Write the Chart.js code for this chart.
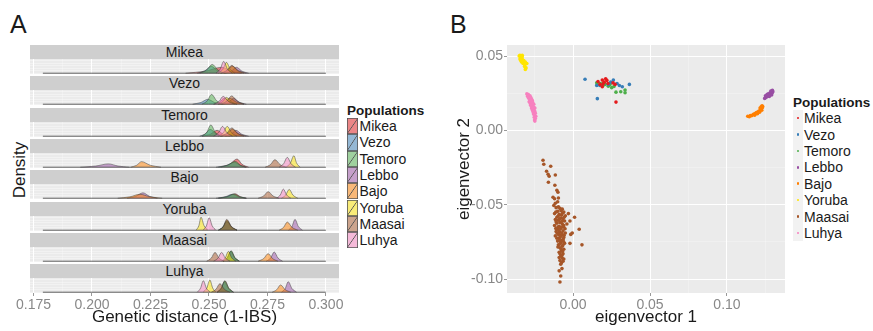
<!DOCTYPE html>
<html>
<head>
<meta charset="utf-8">
<script src="https://cdn.jsdelivr.net/npm/chart.js@4.4.1/dist/chart.umd.min.js"></script>
<style>
  body { margin: 0; width: 873px; height: 331px; overflow: hidden; position: relative; background: #fff;
         font-family: "Liberation Sans", Arial, sans-serif; color: #1a1a1a; }
  canvas { position: absolute; }
  .abs { position: absolute; }
  .tag { font-size: 25px; line-height: 25px; }
  .strip { position: absolute; left: 30px; width: 309px; height: 14px; background: #cfcfcf;
           font-size: 14px; line-height: 14px; text-align: center; }
  .legTitle { position: absolute; font-size: 13.5px; font-weight: bold; line-height: 15px; }
  .row { position: absolute; display: flex; align-items: center; font-size: 14px; }
</style>
</head>
<body>
<div class="abs tag" style="left:10px;top:12px">A</div>
<div class="abs tag" style="left:450px;top:12px">B</div>
<div class="abs" style="left:-20px;top:161px;width:80px;text-align:center;font-size:17px;line-height:18px;transform:rotate(-90deg)">Density</div>
<div class="legTitle" style="left:347px;top:103px">Populations</div>
<div class="legTitle" style="left:793px;top:95px">Populations</div>
<canvas id="pca" width="350" height="331" style="left:440px;top:0"></canvas>
<script>
// populations, in plotting order
const populations = ["Mikea", "Vezo", "Temoro", "Lebbo", "Bajo", "Yoruba", "Maasai", "Luhya"];
const popColors = ["#E41A1C", "#377EB8", "#4DAF4A", "#984EA3", "#FF7F00", "#FFE500", "#A65628", "#F781BF"];

// tick labels
const distanceTicks = ["0.175", "0.200", "0.225", "0.250", "0.275", "0.300"];
const eigenTicks = ["-0.10", "-0.05", "0.00", "0.05", "0.10"];

// panel A: density of genetic distance, one facet per reference population
// each curve: [x values, density values], curves in population order
const densityRange = [0.179, 0.300];

const densityMikea = [
  [[0.240, 0.2485, 0.2555, 0.2593, 0.264], [0, 2.1, 6, 2.1, 0]],
  [[0.245, 0.2483, 0.2510, 0.2537, 0.257], [0, 2.5, 7, 2.5, 0]],
  [[0.246, 0.2490, 0.2514, 0.2539, 0.257], [0, 3.2, 9, 3.2, 0]],
  [[0.257, 0.2596, 0.2618, 0.2641, 0.267], [0, 2.1, 6, 2.1, 0]],
  [[0.255, 0.2578, 0.2600, 0.2627, 0.266], [0, 2.5, 7, 2.5, 0]],
  [[0.254, 0.2559, 0.2575, 0.2591, 0.261], [0, 3.9, 11, 3.9, 0]],
  [[0.255, 0.2576, 0.2598, 0.2621, 0.265], [0, 2.8, 8, 2.8, 0]],
  [[0.253, 0.2548, 0.2563, 0.2579, 0.260], [0, 4.2, 12, 4.2, 0]]
];
const densityVezo = [
  [[0.252, 0.2545, 0.2565, 0.2590, 0.262], [0, 2.1, 6, 2.1, 0]],
  [[0.243, 0.2466, 0.2495, 0.2524, 0.256], [0, 1.8, 5, 1.8, 0]],
  [[0.247, 0.2493, 0.2511, 0.2533, 0.256], [0, 3.5, 10, 3.5, 0]],
  [[0.256, 0.2585, 0.2605, 0.2630, 0.266], [0, 2.1, 6, 2.1, 0]],
  [[0.254, 0.2568, 0.2590, 0.2617, 0.265], [0, 2.1, 6, 2.1, 0]],
  [[0.254, 0.2559, 0.2575, 0.2595, 0.262], [0, 2.5, 7, 2.5, 0]],
  [[0.255, 0.2576, 0.2597, 0.2621, 0.265], [0, 3.0, 8.5, 3.0, 0]],
  [[0.252, 0.2543, 0.2561, 0.2583, 0.261], [0, 2.8, 8, 2.8, 0]]
];
const densityTemoro = [
  [[0.247, 0.2506, 0.2535, 0.2560, 0.259], [0, 2.1, 6, 2.1, 0]],
  [[0.246, 0.2485, 0.2505, 0.2530, 0.256], [0, 2.5, 7, 2.5, 0]],
  [[0.247, 0.2491, 0.2508, 0.2527, 0.255], [0, 4.0, 11.5, 4.0, 0]],
  [[0.257, 0.2595, 0.2615, 0.2640, 0.267], [0, 2.1, 6, 2.1, 0]],
  [[0.255, 0.2578, 0.2600, 0.2627, 0.266], [0, 2.5, 7, 2.5, 0]],
  [[0.254, 0.2561, 0.2578, 0.2597, 0.262], [0, 3.5, 10, 3.5, 0]],
  [[0.255, 0.2576, 0.2598, 0.2621, 0.265], [0, 3.0, 8.5, 3.0, 0]],
  [[0.252, 0.2541, 0.2558, 0.2577, 0.260], [0, 3.5, 10, 3.5, 0]]
];
const densityLebbo = [
  [[0.255, 0.2589, 0.2620, 0.2642, 0.267], [0, 2.9, 8.4, 2.9, 0]],
  [[0.253, 0.2574, 0.2610, 0.2634, 0.266], [0, 1.8, 5, 1.8, 0]],
  [[0.254, 0.2580, 0.2612, 0.2634, 0.266], [0, 2.1, 6, 2.1, 0]],
  [[0.195, 0.2016, 0.2070, 0.2111, 0.216], [0, 1.2, 3.4, 1.2, 0]],
  [[0.2165, 0.2191, 0.2212, 0.2249, 0.2295], [0, 2.0, 5.7, 2.0, 0]],
  [[0.283, 0.2848, 0.2863, 0.2875, 0.289], [0, 4.1, 11.7, 4.1, 0]],
  [[0.274, 0.2763, 0.2782, 0.2804, 0.283], [0, 2.7, 7.7, 2.7, 0]],
  [[0.280, 0.2819, 0.2835, 0.2851, 0.287], [0, 3.5, 10, 3.5, 0]]
];
const densityBajo = [
  [[0.254, 0.2580, 0.2612, 0.2634, 0.266], [0, 1.6, 4.5, 1.6, 0]],
  [[0.253, 0.2569, 0.2600, 0.2627, 0.266], [0, 1.4, 4, 1.4, 0]],
  [[0.254, 0.2577, 0.2607, 0.2631, 0.266], [0, 1.5, 4.3, 1.5, 0]],
  [[0.215, 0.2187, 0.2218, 0.2246, 0.228], [0, 1.9, 5.5, 1.9, 0]],
  [[0.211, 0.2162, 0.2205, 0.2248, 0.230], [0, 1.4, 4, 1.4, 0]],
  [[0.281, 0.2828, 0.2843, 0.2859, 0.288], [0, 3.2, 9, 3.2, 0]],
  [[0.271, 0.2734, 0.2753, 0.2774, 0.280], [0, 2.3, 6.7, 2.3, 0]],
  [[0.279, 0.2805, 0.2818, 0.2832, 0.285], [0, 3.3, 9.3, 3.3, 0]]
];
const densityYoruba = [
  [[0.254, 0.2561, 0.2578, 0.2596, 0.262], [0, 3.2, 9, 3.2, 0]],
  [[0.254, 0.2560, 0.2576, 0.2595, 0.262], [0, 3.2, 9, 3.2, 0]],
  [[0.254, 0.2560, 0.2577, 0.2596, 0.262], [0, 3.5, 10, 3.5, 0]],
  [[0.284, 0.2855, 0.2868, 0.2882, 0.290], [0, 3.9, 11, 3.9, 0]],
  [[0.280, 0.2819, 0.2835, 0.2855, 0.288], [0, 2.9, 8.3, 2.9, 0]],
  [[0.2445, 0.2457, 0.2466, 0.2479, 0.2495], [0, 4.7, 13.3, 4.7, 0]],
  [[0.2545, 0.2562, 0.2576, 0.2596, 0.262], [0, 3.9, 11, 3.9, 0]],
  [[0.2475, 0.2489, 0.2501, 0.2514, 0.253], [0, 4.4, 12.7, 4.4, 0]]
];
const densityMaasai = [
  [[0.256, 0.2579, 0.2595, 0.2611, 0.263], [0, 3.5, 10, 3.5, 0]],
  [[0.256, 0.2578, 0.2593, 0.2610, 0.263], [0, 3.5, 10, 3.5, 0]],
  [[0.256, 0.2579, 0.2595, 0.2611, 0.263], [0, 3.7, 10.7, 3.7, 0]],
  [[0.2745, 0.2764, 0.2779, 0.2795, 0.2815], [0, 3.3, 9.4, 3.3, 0]],
  [[0.271, 0.2734, 0.2753, 0.2772, 0.2795], [0, 2.7, 7.7, 2.7, 0]],
  [[0.2555, 0.2570, 0.2583, 0.2597, 0.2615], [0, 3.5, 10, 3.5, 0]],
  [[0.249, 0.2510, 0.2526, 0.2543, 0.2565], [0, 3.2, 9, 3.2, 0]],
  [[0.252, 0.2539, 0.2554, 0.2570, 0.259], [0, 3.2, 9, 3.2, 0]]
];
const densityLuhya = [
  [[0.2535, 0.2553, 0.2568, 0.2585, 0.2605], [0, 4.0, 11.5, 4.0, 0]],
  [[0.2535, 0.2552, 0.2566, 0.2583, 0.2605], [0, 3.7, 10.5, 3.7, 0]],
  [[0.2535, 0.2553, 0.2568, 0.2585, 0.2605], [0, 4.1, 11.7, 4.1, 0]],
  [[0.281, 0.2826, 0.2839, 0.2855, 0.2875], [0, 3.7, 10.7, 3.7, 0]],
  [[0.277, 0.2790, 0.2806, 0.2826, 0.285], [0, 2.6, 7.4, 2.6, 0]],
  [[0.2475, 0.2491, 0.2504, 0.2516, 0.253], [0, 4.3, 12.4, 4.3, 0]],
  [[0.251, 0.2530, 0.2547, 0.2566, 0.259], [0, 3.0, 8.7, 3.0, 0]],
  [[0.245, 0.2464, 0.2476, 0.2489, 0.2505], [0, 4.1, 11.7, 4.1, 0]]
];

// panel B: PCA, [eigenvector 1, eigenvector 2] per individual
const pcaMikea = [[0.0190,0.0338],[0.0212,0.0347],[0.0203,0.0324],[0.0175,0.0309],[0.0190,0.0293],[0.0273,0.0309],
  [0.0279,0.0190],[0.0162,0.0329],[0.0227,0.0315],[0.0195,0.0312],[0.0260,0.0319],[0.0220,0.0336]];
const pcaVezo = [[0.0078,0.0344],[0.0158,0.0213],[0.0245,0.0324],[0.0262,0.0338],[0.0301,0.0302],[0.0320,0.0293],
  [0.0366,0.0309],[0.0229,0.0309],[0.0154,0.0302],[0.0286,0.0315],[0.0175,0.0302]];
const pcaTemoro = [[0.0154,0.0320],[0.0175,0.0315],[0.0208,0.0309],[0.0229,0.0297],[0.0251,0.0287],[0.0279,0.0257],
  [0.0310,0.0260],[0.0338,0.0253],[0.0338,0.0271],[0.0193,0.0315],[0.0156,0.0305],[0.0195,0.0302],[0.0240,0.0309],[0.0266,0.0295]];
const pcaLebbo = [[0.1245,0.0215],[0.1255,0.0222],[0.1262,0.0228],[0.1270,0.0235],[0.1278,0.0240],[0.1285,0.0245],
  [0.1292,0.0250],[0.1280,0.0252],[0.1268,0.0245],[0.1275,0.0228],[0.1290,0.0238],[0.1298,0.0260],[0.1285,0.0265],
  [0.1295,0.0270],[0.1260,0.0240],[0.1250,0.0232]];
const pcaBajo = [[0.1135,0.0095],[0.1145,0.0092],[0.1152,0.0100],[0.1160,0.0098],[0.1168,0.0105],[0.1175,0.0110],
  [0.1180,0.0102],[0.1185,0.0115],[0.1192,0.0120],[0.1198,0.0112],[0.1202,0.0125],[0.1208,0.0130],[0.1212,0.0122],
  [0.1218,0.0138],[0.1222,0.0145],[0.1226,0.0135],[0.1230,0.0152],[0.1232,0.0160],[0.1228,0.0165],[0.1222,0.0158],[0.1215,0.0150]];
const pcaYoruba = [[-0.0350,0.0500],[-0.0340,0.0490],[-0.0330,0.0495],[-0.0345,0.0480],[-0.0330,0.0480],[-0.0320,0.0470],
  [-0.0340,0.0470],[-0.0335,0.0460],[-0.0320,0.0455],[-0.0310,0.0460],[-0.0325,0.0450],[-0.0310,0.0445],[-0.0300,0.0450],
  [-0.0315,0.0430],[-0.0305,0.0420],[-0.0310,0.0410],[-0.0345,0.0505],[-0.0330,0.0505]];
const pcaMaasai = [[-0.0195,-0.0201],[-0.0190,-0.0228],[-0.0145,-0.0242],[-0.0172,-0.0275],[-0.0162,-0.0295],[-0.0155,-0.0309],
  [-0.0115,-0.0300],[-0.0160,-0.0349],[-0.0118,-0.0369],[-0.0105,-0.0403],[-0.0098,-0.0416],[-0.0130,-0.0450],[-0.0120,-0.0460],
  [-0.0095,-0.0455],[-0.0115,-0.0490],[-0.0100,-0.0480],[-0.0125,-0.0505],
  [-0.0110,-0.0520],[-0.0085,-0.0525],[-0.0070,-0.0530],[-0.0100,-0.0545],[-0.0060,-0.0550],[-0.0120,-0.0560],[-0.0090,-0.0565],
  [-0.0075,-0.0570],[-0.0050,-0.0575],[-0.0105,-0.0585],[-0.0080,-0.0590],[-0.0065,-0.0595],[-0.0115,-0.0600],[-0.0095,-0.0605],
  [-0.0055,-0.0610],[-0.0085,-0.0620],[-0.0105,-0.0625],[-0.0070,-0.0630],[-0.0120,-0.0640],[-0.0090,-0.0645],[-0.0060,-0.0650],
  [-0.0080,-0.0660],[-0.0100,-0.0665],[-0.0065,-0.0675],[-0.0110,-0.0680],[-0.0085,-0.0685],[-0.0050,-0.0690],[-0.0095,-0.0700],
  [-0.0075,-0.0705],[-0.0115,-0.0710],[-0.0060,-0.0720],[-0.0090,-0.0725],[-0.0070,-0.0740],[-0.0100,-0.0745],[-0.0080,-0.0755],
  [-0.0055,-0.0760],[-0.0095,-0.0770],[-0.0070,-0.0780],[-0.0085,-0.0790],[-0.0060,-0.0800],[-0.0075,-0.0810],[-0.0090,-0.0820],
  [-0.0065,-0.0830],[-0.0080,-0.0845],[-0.0070,-0.0860],[-0.0085,-0.0875],[-0.0075,-0.0890],[-0.0065,-0.0880],[-0.0080,-0.0900],
  [-0.0090,-0.0945],[-0.0080,-0.0980],[-0.0085,-0.1020],[-0.0072,-0.0930],
  [-0.0030,-0.0560],[0.0010,-0.0585],[-0.0020,-0.0610],[0.0040,-0.0665],[-0.0005,-0.0690],[-0.0015,-0.0700],[0.0058,-0.0770],
  [-0.0020,-0.0760],[-0.0040,-0.0630],
  [-0.0095,-0.0515],[-0.0078,-0.0540],[-0.0112,-0.0550],[-0.0068,-0.0558],[-0.0098,-0.0578],[-0.0058,-0.0585],[-0.0088,-0.0598],
  [-0.0072,-0.0612],[-0.0110,-0.0615],[-0.0062,-0.0638],[-0.0098,-0.0650],[-0.0075,-0.0652],[-0.0112,-0.0660],[-0.0052,-0.0662],
  [-0.0090,-0.0675],[-0.0072,-0.0690],[-0.0102,-0.0692],[-0.0058,-0.0705],[-0.0082,-0.0715],[-0.0105,-0.0725],[-0.0065,-0.0732],
  [-0.0088,-0.0740],[-0.0062,-0.0748],[-0.0085,-0.0765],[-0.0065,-0.0770],[-0.0098,-0.0785],[-0.0078,-0.0798],[-0.0068,-0.0815],
  [-0.0085,-0.0830],[-0.0072,-0.0842],[-0.0090,-0.0855],[-0.0060,-0.0865]];
const pcaLuhya = [[-0.0300,0.0245],[-0.0290,0.0240],[-0.0295,0.0230],[-0.0280,0.0232],[-0.0290,0.0220],[-0.0275,0.0222],
  [-0.0285,0.0212],[-0.0270,0.0210],[-0.0280,0.0200],[-0.0265,0.0202],[-0.0285,0.0192],[-0.0275,0.0190],[-0.0262,0.0188],
  [-0.0278,0.0180],[-0.0268,0.0178],[-0.0255,0.0175],[-0.0275,0.0168],[-0.0262,0.0165],[-0.0270,0.0158],[-0.0255,0.0155],
  [-0.0268,0.0148],[-0.0258,0.0145],[-0.0248,0.0150],[-0.0265,0.0138],[-0.0252,0.0135],[-0.0260,0.0128],[-0.0248,0.0125],
  [-0.0258,0.0118],[-0.0245,0.0115],[-0.0255,0.0108],[-0.0250,0.0100],[-0.0242,0.0095],[-0.0252,0.0088],[-0.0245,0.0080],
  [-0.0250,0.0070],[-0.0248,0.0062]];

const densityFacets = [densityMikea, densityVezo, densityTemoro, densityLebbo, densityBajo, densityYoruba, densityMaasai, densityLuhya];
const pcaGroups = [pcaMikea, pcaVezo, pcaTemoro, pcaLebbo, pcaBajo, pcaYoruba, pcaMaasai, pcaLuhya];

Chart.defaults.font.family = '"Liberation Sans", Arial, sans-serif';
Chart.defaults.animation = false;

// grey ggplot panel behind the data
const panelBg = {
  id: 'panelBg',
  beforeDraw(chart) {
    const { ctx, chartArea: a } = chart;
    ctx.save();
    ctx.fillStyle = '#ebebeb';
    ctx.fillRect(a.left, a.top, a.width, a.height);
    ctx.restore();
  }
};

function fade(hex, alpha) {
  const n = parseInt(hex.slice(1), 16);
  return `rgba(${n >> 16},${(n >> 8) & 255},${n & 255},${alpha})`;
}
function onStep(v, step) {
  return Math.abs(v / step - Math.round(v / step)) < 1e-6;
}
function fmt(v, digits) {
  return (Math.abs(v) < 1e-9 ? 0 : v).toFixed(digits);
}

const gridColor = (step) => (ctx) => onStep(ctx.tick.value, step) ? '#ffffff' : 'rgba(255,255,255,0.55)';
const gridWidth = (step) => (ctx) => onStep(ctx.tick.value, step) ? 1 : 0.5;
const tickMark = (step) => (ctx) => onStep(ctx.tick.value, step) ? '#999' : 'rgba(0,0,0,0)';

// ---- panel A: faceted densities ----
densityFacets.forEach((curves, f) => {
  const stripTop = Math.round(45 + f * 31.3);
  const strip = document.createElement('div');
  strip.className = 'strip';
  strip.style.top = stripTop + 'px';
  strip.textContent = populations[f];
  document.body.appendChild(strip);

  const last = f === densityFacets.length - 1;
  const top = stripTop + 14;
  const cv = document.createElement('canvas');
  cv.width = 345;
  cv.height = last ? 331 - top : 15;
  cv.style.left = '0px';
  cv.style.top = top + 'px';
  document.body.appendChild(cv);

  const datasets = curves.map((c, i) => ({
    label: populations[i],
    data: c[0].map((x, k) => ({ x, y: c[1][k] })),
    backgroundColor: fade(popColors[i], 0.5),
    borderColor: '#3c3c3c',
    borderWidth: 0.5,
    fill: 'origin',
    pointRadius: 0,
    cubicInterpolationMode: 'monotone',
    order: curves.length - i
  }));
  datasets.push({
    data: densityRange.map(x => ({ x, y: 0 })),
    borderColor: '#3c3c3c', borderWidth: 0.8, pointRadius: 0, fill: false, order: 0
  });

  new Chart(cv, {
    type: 'line',
    data: { datasets },
    options: {
      responsive: false,
      layout: { padding: { left: 30, right: 6, top: 0, bottom: 0 } },
      plugins: { legend: { display: false }, tooltip: { enabled: false } },
      scales: {
        x: {
          type: 'linear', min: 0.1735, max: 0.3056,
          border: { display: false },
          grid: { color: gridColor(0.025), lineWidth: gridWidth(0.025), drawTicks: last, tickLength: 3, tickColor: tickMark(0.025) },
          ticks: {
            display: last, stepSize: 0.0125, includeBounds: false, autoSkip: false, maxRotation: 0,
            padding: 1, color: '#888', font: { size: 14 },
            callback: v => distanceTicks.includes(fmt(v, 3)) ? fmt(v, 3) : ''
          },
          title: { display: last, text: 'Genetic distance (1-IBS)', color: '#1a1a1a', font: { size: 17 }, padding: { top: 0, bottom: 3.5 } },
          afterFit: s => { if (last) s.height = 38; }
        },
        y: {
          min: -0.8, max: 14.5,
          border: { display: false },
          grid: { color: 'rgba(255,255,255,0.75)', lineWidth: 0.5, drawTicks: false },
          ticks: { display: false, stepSize: 2.5, includeBounds: false }
        }
      }
    },
    plugins: [panelBg]
  });
});

// ---- panel B: PCA scatter ----
new Chart(document.getElementById('pca'), {
  type: 'scatter',
  data: {
    datasets: pcaGroups.map((g, i) => ({
      label: populations[i],
      data: g.map(p => ({ x: p[0], y: p[1] })),
      backgroundColor: popColors[i],
      borderWidth: 0,
      pointRadius: 1.8
    }))
  },
  options: {
    responsive: false,
    layout: { padding: { left: 0, right: 5, top: 45, bottom: 0 } },
    plugins: { legend: { display: false }, tooltip: { enabled: false } },
    scales: {
      x: {
        min: -0.0429, max: 0.1377,
        border: { display: false },
        grid: { color: gridColor(0.05), lineWidth: gridWidth(0.05), tickLength: 3, tickColor: tickMark(0.05) },
        ticks: {
          stepSize: 0.025, includeBounds: false, autoSkip: false, maxRotation: 0,
          padding: 1, color: '#888', font: { size: 14 },
          callback: v => eigenTicks.includes(fmt(v, 2)) ? fmt(v, 2) : ''
        },
        title: { display: true, text: 'eigenvector 1', color: '#1a1a1a', font: { size: 17 }, padding: { top: 0, bottom: 3.5 } },
        afterFit: s => { s.height = 38; }
      },
      y: {
        min: -0.1094, max: 0.0574,
        border: { display: false },
        grid: { color: gridColor(0.05), lineWidth: gridWidth(0.05), tickLength: 3, tickColor: tickMark(0.05) },
        ticks: {
          stepSize: 0.025, includeBounds: false, autoSkip: false,
          padding: 1, color: '#888', font: { size: 14 },
          callback: v => eigenTicks.includes(fmt(v, 2)) ? fmt(v, 2) : ''
        },
        title: { display: true, text: 'eigenvector 2', color: '#1a1a1a', font: { size: 17 }, padding: { top: 14, bottom: 0 } },
        afterFit: s => { s.width = 67; }
      }
    }
  },
  plugins: [panelBg]
});

// ---- legends ----
populations.forEach((p, i) => {
  // panel A: filled keys with the ggplot diagonal
  const rowA = document.createElement('div');
  rowA.className = 'row';
  rowA.style.cssText = `left:347px;top:${(118 + i * 16.3).toFixed(1)}px;height:16.3px;`;
  const key = document.createElement('span');
  const c = fade(popColors[i], 0.5);
  key.style.cssText = `display:inline-block;width:11px;height:16.3px;box-shadow:inset 0 0 0 0.8px #555;` +
    `background:linear-gradient(to bottom right, transparent calc(50% - 0.7px), #555 50%, transparent calc(50% + 0.7px)),` +
    `linear-gradient(${c}, ${c}), #f2f2f2;`;
  const labA = document.createElement('span');
  labA.textContent = p;
  labA.style.marginLeft = '1.5px';
  rowA.append(key, labA);
  document.body.appendChild(rowA);

  // panel B: small dots on a grey key column
  const rowB = document.createElement('div');
  rowB.className = 'row';
  rowB.style.cssText = `left:793px;top:${(110 + i * 16.4).toFixed(1)}px;height:16.4px;`;
  const kb = document.createElement('span');
  kb.style.cssText = 'display:inline-flex;width:10px;height:16.4px;background:#f2f2f2;align-items:center;justify-content:center;';
  const dot = document.createElement('span');
  dot.style.cssText = `width:2.6px;height:2.6px;border-radius:50%;background:${popColors[i]};`;
  kb.appendChild(dot);
  const labB = document.createElement('span');
  labB.textContent = p;
  labB.style.marginLeft = '1px';
  rowB.append(kb, labB);
  document.body.appendChild(rowB);
});
</script>
</body>
</html>
